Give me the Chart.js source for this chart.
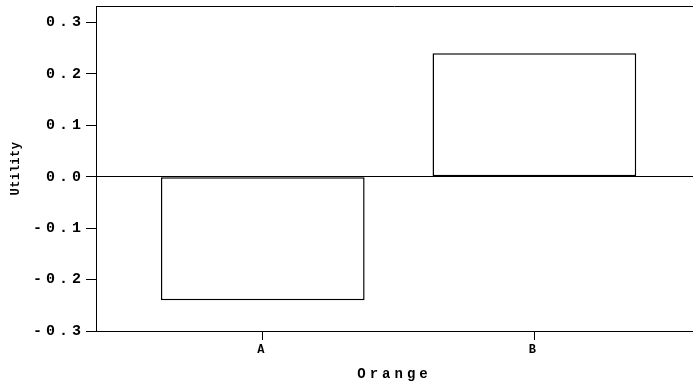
<!DOCTYPE html>
<html>
<head>
<meta charset="utf-8">
<script src="https://cdn.jsdelivr.net/npm/chart.js@4"></script>
<style>
  html, body { margin: 0; padding: 0; background: #fff; }
  #wrap { width: 693px; height: 387px; }
</style>
</head>
<body>
<div id="wrap"><canvas id="chart" width="693" height="387"></canvas></div>
<script>
const categories = ['A', 'B'];
const utility = [-0.24, 0.24];
const yTicks = [-0.3, -0.2, -0.1, 0.0, 0.1, 0.2, 0.3];

const mono = "'Liberation Mono', 'Courier New', monospace";

// wide monospace look, but keep the y title tight
const spacingPlugin = {
  id: 'spacing',
  beforeDraw(chart) {
    const ctx = chart.ctx;
    ctx.letterSpacing = '4px';
    const y = chart.scales.y;
    if (!y._tight) {
      const orig = y.drawTitle;
      y.drawTitle = function () {
        const prev = this.ctx.letterSpacing;
        this.ctx.letterSpacing = '0.5px';
        orig.apply(this, arguments);
        this.ctx.letterSpacing = prev;
      };
      y._tight = true;
    }
  },
  afterDraw(chart) {
    const { ctx, chartArea } = chart;
    ctx.save();
    ctx.strokeStyle = '#000';
    ctx.lineWidth = 1;
    ctx.beginPath();
    const t = Math.round(chartArea.top) + 0.5;
    ctx.moveTo(chartArea.left, t);
    ctx.lineTo(chartArea.right, t);
    ctx.stroke();
    ctx.restore();
  }
};

new Chart(document.getElementById('chart'), {
  type: 'bar',
  data: {
    datasets: [{
      data: categories.map((c, i) => ({ x: i + 1, y: utility[i] })),
      backgroundColor: '#ffffff',
      borderColor: '#000000',
      borderWidth: 1.5,
      borderSkipped: false,
      barPercentage: 0.75,
      categoryPercentage: 1
    }]
  },
  options: {
    responsive: false,
    animation: false,
    layout: { padding: { top: 6, right: 0, left: 0, bottom: 0 } },
    plugins: { legend: { display: false }, tooltip: { enabled: false } },
    scales: {
      x: {
        type: 'linear',
        offset: false,
        min: 0.386,
        max: 2.584,
        afterBuildTicks: (scale) => {
          scale.ticks = categories.map((c, i) => ({ value: i + 1 }));
        },
        afterFit: (scale) => {
          scale.height = 56;
          scale.paddingLeft = 0;
          scale.paddingRight = 0;
        },
        ticks: {
          callback: (v) => categories[v - 1],
          color: '#000',
          font: { family: mono, size: 12, weight: 'bold' },
          padding: 3,
          maxRotation: 0,
          autoSkip: false
        },
        grid: { offset: false, drawOnChartArea: false, tickLength: 9, tickColor: '#000', tickWidth: 1 },
        border: { display: true, color: '#000', width: 1 },
        title: {
          display: true,
          text: 'Orange',
          color: '#000',
          font: { family: mono, size: 14, weight: 'bold' },
          padding: { top: 0, bottom: 4 }
        }
      },
      y: {
        min: -0.3,
        max: 0.332,
        afterBuildTicks: (scale) => {
          scale.ticks = yTicks.map(v => ({ value: v }));
        },
        afterFit: (scale) => {
          scale.width = 96;
          scale.paddingTop = 0;
          scale.paddingBottom = 0;
        },
        ticks: {
          callback: (v) => v.toFixed(1),
          color: '#000',
          font: { family: mono, size: 15, weight: 'bold' },
          padding: 1
        },
        grid: {
          color: (c) => (c.tick && Math.abs(c.tick.value) < 1e-9 ? '#000' : 'rgba(0,0,0,0)'),
          lineWidth: 1,
          tickLength: 10,
          tickColor: '#000',
          tickWidth: 1
        },
        border: { display: true, color: '#000', width: 1 },
        title: {
          display: true,
          text: 'Utility',
          color: '#000',
          font: { family: mono, size: 12, weight: 'bold' },
          padding: { top: 9, bottom: 0 }
        }
      }
    }
  },
  plugins: [spacingPlugin]
});
</script>
</body>
</html>
